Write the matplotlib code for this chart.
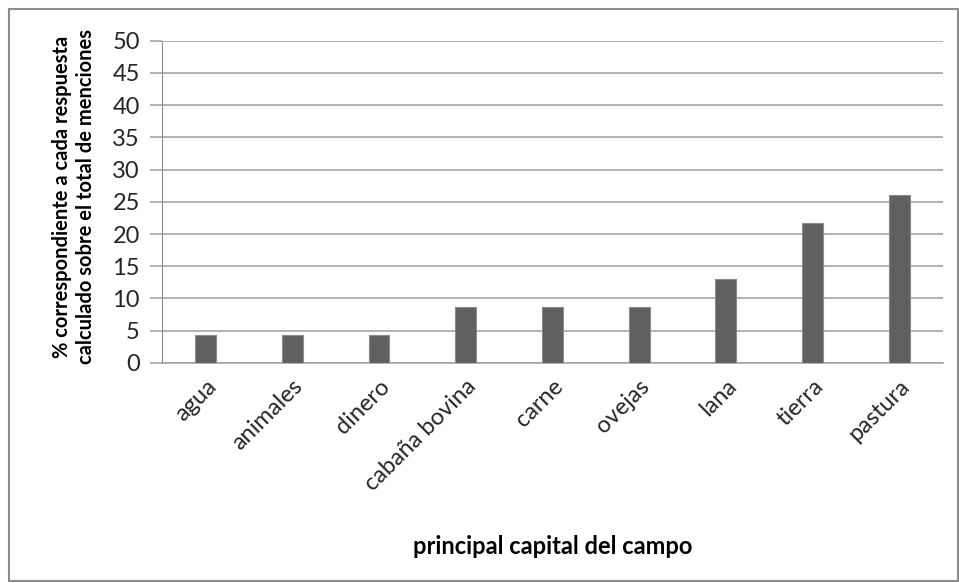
import matplotlib.pyplot as plt
from matplotlib.patches import Rectangle

plt.rcParams['font.family'] = ['Lato', 'DejaVu Sans']

categorias = ['agua', 'animales', 'dinero', 'cabaña bovina', 'carne',
              'ovejas', 'lana', 'tierra', 'pastura']
menciones = [1, 1, 1, 2, 2, 2, 3, 5, 6]
total = sum(menciones)
porcentaje = [100 * n / total for n in menciones]

fig = plt.figure(figsize=(9.59, 5.83), dpi=100)
ax = fig.add_axes([0.169, 0.3774, 0.814, 0.553])

x = range(len(categorias))
ax.bar(x, porcentaje, width=0.24, color='#606060', edgecolor='#8c8c8c',
       linewidth=0.8, zorder=3)

ax.set_xlim(-0.5, len(categorias) - 0.5)
ax.set_ylim(0, 50)
ax.set_yticks(range(0, 51, 5))
ax.yaxis.grid(True, color='#a6a6a6', linewidth=1.2, zorder=0)

for s in ['top', 'right']:
    ax.spines[s].set_visible(False)
ax.spines['left'].set_color('#8c8c8c')
ax.spines['bottom'].set_color('#a6a6a6')
ax.spines['bottom'].set_linewidth(1.2)

ax.tick_params(axis='y', length=9, color='#a6a6a6', width=1.2,
               labelsize=17, labelcolor='#262626', pad=7)
ax.tick_params(axis='x', length=0, labelsize=17, labelcolor='#262626', pad=9)
ax.set_xticks(list(x))
ax.set_xticklabels(categorias, rotation=45, ha='right', rotation_mode='anchor')

ax.set_ylabel('% correspondiente a cada respuesta\ncalculado sobre el total de menciones',
              fontsize=14.5, fontweight='bold', linespacing=1.25)
ax.yaxis.set_label_coords(-0.084, 0.515)
ax.set_xlabel('principal capital del campo', fontsize=17, fontweight='bold')
ax.xaxis.set_label_coords(0.5, -0.535)

# borde del área del gráfico
fig.patches.append(Rectangle((0.0095, 0.004), 0.989, 0.98, transform=fig.transFigure,
                             fill=False, edgecolor='#8c8c8c', linewidth=1.5))

fig.savefig('out.png', dpi=100)
